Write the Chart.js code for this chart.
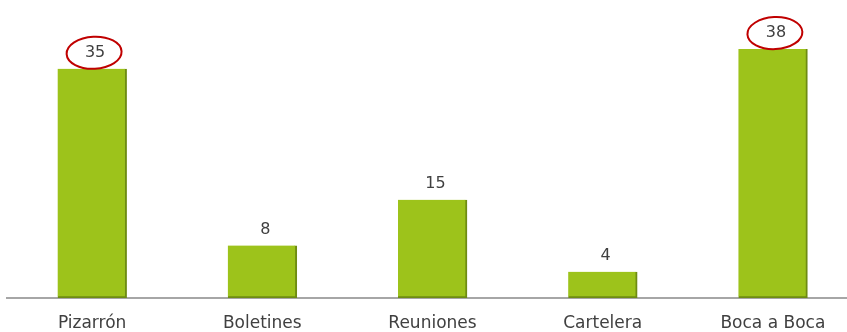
<!DOCTYPE html>
<html>
<head>
<meta charset="utf-8">
<script src="https://cdn.jsdelivr.net/npm/chart.js@4/dist/chart.umd.min.js"></script>
<style>
  html, body { margin: 0; padding: 0; background: #fff; overflow: hidden; }
  #wrap { width: 860px; height: 332px; position: relative; }
</style>
</head>
<body>
<div id="wrap"><canvas id="c"></canvas></div>
<script>
// Channels of communication and how many respondents named each one
const categories = ['Pizarrón', 'Boletines', 'Reuniones', 'Cartelera', 'Boca a Boca'];
const counts = [35, 8, 15, 4, 38];
// Values circled in red
const circled = [true, false, false, false, true];

const FONT = '"DejaVu Sans", "Open Sans", sans-serif';

// Value labels above each bar, with an ellipse around the circled ones
const valueLabels = {
  id: 'valueLabels',
  afterDatasetsDraw(chart) {
    const ctx = chart.ctx;
    const meta = chart.getDatasetMeta(0);
    ctx.save();
    ctx.font = '16px ' + FONT;
    ctx.fillStyle = '#404040';
    ctx.textAlign = 'center';
    ctx.textBaseline = 'middle';
    meta.data.forEach((bar, i) => {
      const x = bar.x + 3;
      const y = bar.y - 16;
      ctx.fillText(String(counts[i]), x, y);
      if (circled[i]) {
        ctx.beginPath();
        ctx.ellipse(x - 1, y, 27.5, 16, -0.05, 0, Math.PI * 2);
        ctx.strokeStyle = '#C00000';
        ctx.lineWidth = 2;
        ctx.stroke();
      }
    });
    ctx.restore();
  }
};

new Chart(document.getElementById('c'), {
  type: 'bar',
  data: {
    labels: categories,
    datasets: [{
      data: counts,
      backgroundColor: '#9DC31B',
      borderColor: '#6E8C12',
      borderWidth: { top: 0, left: 0, right: 2, bottom: 2 },
      borderSkipped: false,
      barThickness: 69
    }]
  },
  options: {
    responsive: true,
    maintainAspectRatio: false,
    animation: false,
    layout: { padding: { left: 7, right: 2, top: 36, bottom: 0 } },
    plugins: { legend: { display: false }, tooltip: { enabled: false } },
    scales: {
      x: {
        grid: { display: false },
        border: { display: true, color: '#A6A6A6', width: 2 },
        ticks: { color: '#404040', font: { family: FONT, size: 17 }, padding: 7 },
        afterFit(scale) { scale.height = 34; }
      },
      y: {
        display: false,
        min: 0,
        max: 40
      }
    }
  },
  plugins: [valueLabels]
});
</script>
</body>
</html>
